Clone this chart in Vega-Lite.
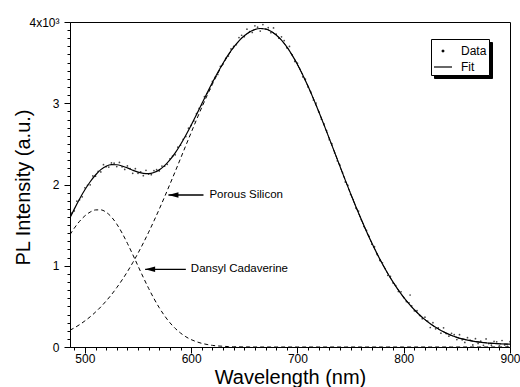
{
  "$schema": "https://vega.github.io/schema/vega-lite/v6.json",
  "width": 440,
  "height": 325,
  "autosize": {"type": "none"},
  "padding": {"left": 70, "top": 22, "right": 10, "bottom": 40},
  "background": "white",
  "config": {
    "font": "Liberation Sans",
    "view": {"stroke": "black", "strokeWidth": 1},
    "axis": {
      "domainColor": "black", "tickColor": "black", "labelColor": "black", "titleColor": "black",
      "labelFont": "Liberation Sans", "titleFont": "Liberation Sans", "labelFontSize": 12,
      "titleFontSize": 20, "titleFontWeight": "normal", "grid": false, "labelOverlap": false,
      "labelFlush": false, "tickWidth": 1, "domainWidth": 1
    }
  },
  "datasets": {
    "curves": [
      {"w":486,"fit":1590,"ps":207,"dc":1383},{"w":490,"fit":1697,"ps":235,"dc":1462},{"w":495,"fit":1822,"ps":275,"dc":1547},
      {"w":500,"fit":1935,"ps":321,"dc":1614},{"w":505,"fit":2034,"ps":372,"dc":1661},{"w":510,"fit":2117,"ps":430,"dc":1687},
      {"w":515,"fit":2183,"ps":494,"dc":1688},{"w":520,"fit":2225,"ps":566,"dc":1659},{"w":525,"fit":2244,"ps":644,"dc":1600},
      {"w":530,"fit":2243,"ps":731,"dc":1513},{"w":535,"fit":2228,"ps":825,"dc":1403},{"w":540,"fit":2204,"ps":927,"dc":1276},
      {"w":545,"fit":2176,"ps":1037,"dc":1139},{"w":550,"fit":2152,"ps":1155,"dc":997},{"w":555,"fit":2137,"ps":1280,"dc":856},
      {"w":560,"fit":2134,"ps":1413,"dc":721},{"w":565,"fit":2148,"ps":1552,"dc":596},{"w":570,"fit":2180,"ps":1697,"dc":483},
      {"w":575,"fit":2232,"ps":1848,"dc":384},{"w":580,"fit":2302,"ps":2003,"dc":299},{"w":585,"fit":2389,"ps":2160,"dc":229},
      {"w":590,"fit":2492,"ps":2320,"dc":172},{"w":595,"fit":2607,"ps":2480,"dc":126},{"w":600,"fit":2730,"ps":2639,"dc":91},
      {"w":605,"fit":2860,"ps":2796,"dc":65},{"w":610,"fit":2993,"ps":2949,"dc":45},{"w":615,"fit":3126,"ps":3095,"dc":31},
      {"w":620,"fit":3255,"ps":3235,"dc":20},{"w":625,"fit":3378,"ps":3365,"dc":13},{"w":630,"fit":3493,"ps":3485,"dc":9},
      {"w":635,"fit":3598,"ps":3592,"dc":5},{"w":640,"fit":3690,"ps":3687,"dc":3},{"w":645,"fit":3768,"ps":3766,"dc":2},
      {"w":650,"fit":3831,"ps":3830,"dc":1},{"w":655,"fit":3878,"ps":3877,"dc":1},{"w":660,"fit":3908,"ps":3907,"dc":0},
      {"w":665,"fit":3920,"ps":3920,"dc":0},{"w":670,"fit":3914,"ps":3914,"dc":0},{"w":675,"fit":3887,"ps":3887,"dc":0},
      {"w":680,"fit":3841,"ps":3841,"dc":0},{"w":685,"fit":3776,"ps":3776,"dc":0},{"w":690,"fit":3693,"ps":3693,"dc":0},
      {"w":695,"fit":3593,"ps":3593,"dc":0},{"w":700,"fit":3478,"ps":3478,"dc":0},{"w":705,"fit":3349,"ps":3349,"dc":0},
      {"w":710,"fit":3208,"ps":3208,"dc":0},{"w":715,"fit":3057,"ps":3057,"dc":0},{"w":720,"fit":2899,"ps":2899,"dc":0},
      {"w":725,"fit":2734,"ps":2734,"dc":0},{"w":730,"fit":2565,"ps":2565,"dc":0},{"w":735,"fit":2395,"ps":2395,"dc":0},
      {"w":740,"fit":2224,"ps":2224,"dc":0},{"w":745,"fit":2054,"ps":2054,"dc":0},{"w":750,"fit":1888,"ps":1888,"dc":0},
      {"w":755,"fit":1727,"ps":1727,"dc":0},{"w":760,"fit":1571,"ps":1571,"dc":0},{"w":765,"fit":1421,"ps":1421,"dc":0},
      {"w":770,"fit":1279,"ps":1279,"dc":0},{"w":775,"fit":1146,"ps":1146,"dc":0},{"w":780,"fit":1021,"ps":1021,"dc":0},
      {"w":785,"fit":905,"ps":905,"dc":0},{"w":790,"fit":798,"ps":798,"dc":0},{"w":795,"fit":700,"ps":700,"dc":0},
      {"w":800,"fit":611,"ps":611,"dc":0},{"w":805,"fit":531,"ps":531,"dc":0},{"w":810,"fit":458,"ps":458,"dc":0},
      {"w":815,"fit":394,"ps":394,"dc":0},{"w":820,"fit":337,"ps":337,"dc":0},{"w":825,"fit":286,"ps":286,"dc":0},
      {"w":830,"fit":242,"ps":242,"dc":0},{"w":835,"fit":204,"ps":204,"dc":0},{"w":840,"fit":171,"ps":171,"dc":0},
      {"w":845,"fit":142,"ps":142,"dc":0},{"w":850,"fit":118,"ps":118,"dc":0},{"w":855,"fit":100,"ps":100,"dc":0},
      {"w":860,"fit":85,"ps":85,"dc":0},{"w":865,"fit":72,"ps":72,"dc":0},{"w":870,"fit":62,"ps":62,"dc":0},
      {"w":875,"fit":55,"ps":55,"dc":0},{"w":880,"fit":48,"ps":48,"dc":0},{"w":885,"fit":44,"ps":44,"dc":0},
      {"w":890,"fit":40,"ps":40,"dc":0},{"w":895,"fit":37,"ps":37,"dc":0},{"w":900,"fit":35,"ps":35,"dc":0}
    ],
    "pts": [
      {"w":487.5,"v":1648},{"w":490,"v":1675},{"w":492.5,"v":1795},{"w":495,"v":1812},
      {"w":497.5,"v":1849},{"w":500,"v":1960},{"w":502.5,"v":1990},{"w":505,"v":1996},
      {"w":507.5,"v":2106},{"w":510,"v":2102},{"w":512.5,"v":2162},{"w":515,"v":2155},
      {"w":517.5,"v":2244},{"w":520,"v":2220},{"w":522.5,"v":2215},{"w":525,"v":2266},
      {"w":527.5,"v":2262},{"w":530,"v":2221},{"w":532.5,"v":2271},{"w":535,"v":2218},
      {"w":537.5,"v":2186},{"w":540,"v":2229},{"w":542.5,"v":2195},{"w":545,"v":2138},
      {"w":547.5,"v":2194},{"w":550,"v":2137},{"w":552.5,"v":2157},{"w":555,"v":2109},
      {"w":557.5,"v":2175},{"w":560,"v":2129},{"w":562.5,"v":2121},{"w":565,"v":2170},
      {"w":567.5,"v":2182},{"w":570,"v":2167},{"w":572.5,"v":2227},{"w":575,"v":2226},
      {"w":577.5,"v":2249},{"w":580,"v":2317},{"w":582.5,"v":2349},{"w":585,"v":2366},
      {"w":587.5,"v":2459},{"w":590,"v":2483},{"w":592.5,"v":2557},{"w":595,"v":2590},
      {"w":597.5,"v":2693},{"w":600,"v":2727},{"w":602.5,"v":2783},{"w":605,"v":2873},
      {"w":607.5,"v":2938},{"w":610,"v":2980},{"w":612.5,"v":3081},{"w":615,"v":3120},
      {"w":617.5,"v":3173},{"w":620,"v":3270},{"w":622.5,"v":3320},{"w":625,"v":3355},
      {"w":627.5,"v":3454},{"w":630,"v":3484},{"w":632.5,"v":3553},{"w":635,"v":3581},
      {"w":637.5,"v":3668},{"w":640,"v":3699},{"w":642.5,"v":3720},{"w":645,"v":3809},
      {"w":647.5,"v":3837},{"w":650,"v":3820},{"w":652.5,"v":3912},{"w":655,"v":3881},
      {"w":657.5,"v":3872},{"w":660,"v":3953},{"w":662.5,"v":3936},{"w":665,"v":3889},
      {"w":667.5,"v":3969},{"w":670,"v":3911},{"w":672.5,"v":3930},{"w":675,"v":3868},
      {"w":677.5,"v":3927},{"w":680,"v":3850},{"w":682.5,"v":3800},{"w":685,"v":3817},
      {"w":687.5,"v":3772},{"w":690,"v":3682},{"w":692.5,"v":3700},{"w":695,"v":3596},
      {"w":697.5,"v":3515},{"w":700,"v":3493},{"w":702.5,"v":3417},{"w":705,"v":3326},
      {"w":707.5,"v":3297},{"w":710,"v":3199},{"w":712.5,"v":3140},{"w":715,"v":3040},
      {"w":717.5,"v":3002},{"w":720,"v":2896},{"w":722.5,"v":2805},{"w":725,"v":2747},
      {"w":727.5,"v":2661},{"w":730,"v":2552},{"w":732.5,"v":2501},{"w":735,"v":2389},
      {"w":737.5,"v":2292},{"w":740,"v":2239},{"w":742.5,"v":2142},{"w":745,"v":2031},
      {"w":747.5,"v":1989},{"w":750,"v":1879},{"w":752.5,"v":1815},{"w":755,"v":1710},
      {"w":757.5,"v":1673},{"w":760,"v":1568},{"w":762.5,"v":1484},{"w":765,"v":1434},
      {"w":767.5,"v":1361},{"w":770,"v":1266},{"w":772.5,"v":1234},{"w":775,"v":1140},
      {"w":777.5,"v":1066},{"w":780,"v":1036},{"w":782.5,"v":966},{"w":785,"v":882},
      {"w":787.5,"v":870},{"w":790,"v":789},{"w":792.5,"v":756},{"w":795,"v":683},
      {"w":797.5,"v":680},{"w":800,"v":608},{"w":802.5,"v":559},{"w":805,"v":544},
      {"w":806,"v":640},{"w":807.5,"v":506},{"w":810,"v":445},{"w":812.5,"v":447},
      {"w":815,"v":388},{"w":817.5,"v":348},{"w":820,"v":367},{"w":822.5,"v":318},
      {"w":825,"v":240},{"w":827.5,"v":300},{"w":830,"v":224},{"w":832.5,"v":237},
      {"w":835,"v":170},{"w":837.5,"v":236},{"w":840,"v":165},{"w":842.5,"v":133},
      {"w":845,"v":168},{"w":847.5,"v":152},{"w":850,"v":92},{"w":852.5,"v":151},
      {"w":855,"v":88},{"w":857.5,"v":56},{"w":860,"v":115},{"w":862.5,"v":84},
      {"w":865,"v":26},{"w":867.5,"v":103},{"w":870,"v":44},{"w":872.5,"v":72},
      {"w":875,"v":21},{"w":877.5,"v":99},{"w":880,"v":42},{"w":882.5,"v":22},
      {"w":885,"v":70},{"w":887.5,"v":64},{"w":890,"v":14},{"w":892.5,"v":80},
      {"w":895,"v":25},{"w":897.5,"v":8},{"w":900,"v":65}
    ],
    "notes": [
      {"w": 617.2, "v": 1871, "t": "Porous Silicon"},
      {"w": 599.7, "v": 956, "t": "Dansyl Cadaverine"}
    ],
    "arrows": [
      {"w": 578.6, "w2": 611.6, "h": 583.3, "v": 1871},
      {"w": 556.7, "w2": 595.0, "h": 561.4, "v": 956}
    ]
  },
  "resolve": {"scale": {"x": "independent", "y": "independent"}},
  "layer": [
    {
      "layer": [
        {
          "data": {"name": "curves"},
          "mark": {"type": "line", "color": "black", "strokeWidth": 1, "strokeDash": [4, 3], "clip": true, "interpolate": "monotone"},
          "encoding": {
            "x": {
              "field": "w", "type": "quantitative",
              "scale": {"domain": [486, 900], "nice": false, "zero": false},
              "axis": {
                "orient": "bottom",
                "title": "Wavelength (nm)",
                "values": [500, 600, 700, 800, 900],
                "format": "d",
                "tickSize": 6, "labelPadding": 0, "labelOverlap": false, "labelBound": false,
                "titleY": 36, "titleBaseline": "alphabetic"
              }
            },
            "y": {
              "field": "ps", "type": "quantitative",
              "scale": {"domain": [0, 4000], "nice": false},
              "axis": {
                "orient": "left",
                "title": "PL Intensity (a.u.)",
                "values": [0, 1000, 2000, 3000, 4000],
                "labelExpr": "datum.value === 4000 ? '4x10³' : format(datum.value / 1000, 'd')",
                "tickSize": 6, "labelPadding": 5, "labelOverlap": false, "labelBound": false,
                "titleX": -41, "titleY": 165, "titleBaseline": "alphabetic", "titleAlign": "center", "titleAngle": -90
              }
            }
          }
        },
        {
          "data": {"name": "curves"},
          "mark": {"type": "line", "color": "black", "strokeWidth": 1, "strokeDash": [4, 3], "clip": true, "interpolate": "monotone"},
          "encoding": {
            "x": {"field": "w", "type": "quantitative"},
            "y": {"field": "dc", "type": "quantitative"}
          }
        },
        {
          "data": {"name": "pts"},
          "mark": {"type": "point", "shape": "circle", "filled": true, "size": 3, "color": "#333", "opacity": 0.9, "clip": true},
          "encoding": {
            "x": {"field": "w", "type": "quantitative"},
            "y": {"field": "v", "type": "quantitative"}
          }
        },
        {
          "data": {"name": "curves"},
          "mark": {"type": "point", "opacity": 0, "clip": true},
          "encoding": {
            "x": {"field": "w", "type": "quantitative"},
            "y": {"field": "fit", "type": "quantitative"},
            "shape": {
              "datum": "d",
              "scale": {"domain": ["d", "f"], "range": ["M-1,0L1,0", "M-1,0L1,0"]},
              "legend": {
                "title": null, "orient": "none", "legendX": 364, "legendY": 20,
                "fillColor": "black", "strokeColor": "black", "padding": 2, "rowPadding": 0,
                "labelFont": "Liberation Sans", "labelFontSize": 12, "labelColor": "black", "labelOffset": 8,
                "labelExpr": "datum.value === 'd' ? 'Data' : 'Fit'", "labelOpacity": 0,
                "symbolSize": 324, "symbolOpacity": 0
              }
            }
          }
        },
        {
          "data": {"name": "curves"},
          "mark": {"type": "line", "strokeWidth": 1.2, "clip": true, "interpolate": "monotone"},
          "encoding": {
            "x": {"field": "w", "type": "quantitative"},
            "y": {"field": "fit", "type": "quantitative"},
            "color": {
              "datum": "Fit",
              "scale": {"domain": ["Data", "Fit"], "range": ["black", "black"]},
              "legend": {
                "title": null, "orient": "none", "legendX": 361, "legendY": 17,
                "fillColor": "white", "strokeColor": "black", "padding": 2, "rowPadding": 0,
                "labelFont": "Liberation Sans", "labelFontSize": 12, "labelColor": "black", "labelOffset": 8,
                "symbolSize": 324, "symbolType": "M-1,0L1,0", "symbolStrokeWidth": 1.2,
                "encode": {"symbols": {"update": {
                  "shape": {"signal": "datum.value === 'Data' ? 'circle' : 'M-1,0L1,0'"},
                  "size": {"signal": "datum.value === 'Data' ? 3 : 324"},
                  "fill": {"value": "black"}, "stroke": {"value": "black"},
                  "strokeWidth": {"value": 1.2}, "opacity": {"value": 1}
                }}}
              }
            }
          }
        },
        {
          "data": {"name": "arrows"},
          "mark": {"type": "rule", "color": "black", "strokeWidth": 1.3},
          "encoding": {
            "x": {"field": "w", "type": "quantitative"},
            "x2": {"field": "w2"},
            "y": {"field": "v", "type": "quantitative"}
          }
        },
        {
          "data": {"name": "arrows"},
          "mark": {"type": "point", "shape": "M-1,0L1,-0.55L1,0.55Z", "filled": true, "color": "black", "size": 100, "opacity": 1},
          "encoding": {
            "x": {"field": "h", "type": "quantitative"},
            "y": {"field": "v", "type": "quantitative"}
          }
        },
        {
          "data": {"name": "notes"},
          "mark": {"type": "text", "align": "left", "baseline": "middle", "font": "Liberation Sans", "fontSize": 11.5, "color": "black"},
          "encoding": {
            "x": {"field": "w", "type": "quantitative"},
            "y": {"field": "v", "type": "quantitative"},
            "text": {"field": "t"}
          }
        }
      ]
    },
    {
      "data": {"name": "curves"},
      "mark": {"type": "point", "opacity": 0},
      "encoding": {
        "x": {
          "field": "w", "type": "quantitative",
          "scale": {"domain": [486, 900], "nice": false, "zero": false},
          "axis": {
            "orient": "bottom", "title": null, "labels": false, "domain": false, "tickSize": 3,
            "values": [490,510,520,530,540,550,560,570,580,590,610,620,630,640,650,660,670,680,690,710,720,730,740,750,760,770,780,790,810,820,830,840,850,860,870,880,890]
          }
        },
        "y": {
          "field": "fit", "type": "quantitative",
          "scale": {"domain": [0, 4000], "nice": false},
          "axis": {
            "orient": "left", "title": null, "labels": false, "domain": false, "tickSize": 3,
            "values": [100,200,300,400,500,600,700,800,900,1100,1200,1300,1400,1500,1600,1700,1800,1900,2100,2200,2300,2400,2500,2600,2700,2800,2900,3100,3200,3300,3400,3500,3600,3700,3800,3900]
          }
        }
      }
    }
  ]
}
